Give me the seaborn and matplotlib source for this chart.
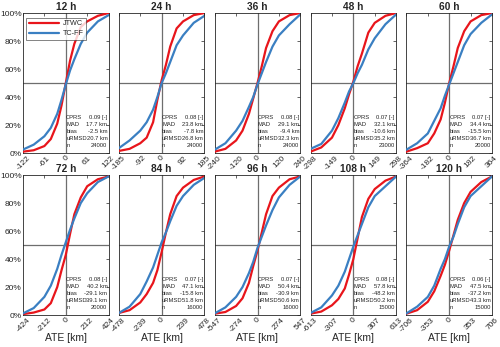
import numpy as np
import pandas as pd
import matplotlib
matplotlib.use("Agg")
import matplotlib.pyplot as plt
import matplotlib.transforms as mtransforms
import seaborn as sns

# lead times and axis half-ranges (km)
leads = ["12 h", "24 h", "36 h", "48 h", "60 h", "72 h", "84 h", "96 h", "108 h", "120 h"]
xlims = [122, 185, 240, 298, 364, 424, 478, 547, 613, 706]
xtick_half = [61, 92, 120, 149, 182, 212, 239, 274, 307, 353]

# positions where the CDFs were read, as fraction of the half-range
ate_frac = [-1, -0.75, -0.5, -0.35, -0.2, -0.1, 0, 0.1, 0.2, 0.35, 0.5, 0.75, 1]

# cumulative percentages
jtwc = [
    [1, 2, 5, 10, 21, 34, 50, 66, 78, 90, 94, 98, 100],
    [1.5, 3, 7, 11, 22, 38, 52, 63, 76, 89, 94, 98.5, 100],
    [1, 3, 9, 16, 28, 39, 50, 62, 75, 87, 94, 98.5, 100],
    [1, 4, 11, 20, 32, 42, 51, 62, 71, 86, 93, 98, 100],
    [1, 3.5, 7, 14, 24, 36, 50, 62, 75, 87, 94, 98.5, 100],
    [0.7, 1.8, 4, 8.5, 20, 32, 43, 58, 72, 84, 92, 97, 99],
    [1.5, 3.5, 9, 15, 23, 32, 45, 59, 72, 85, 91, 96.5, 99],
    [1, 2.2, 6.5, 12, 23, 35, 46, 59, 72, 85, 91, 97, 99],
    [1, 2.5, 7, 11.5, 19, 29, 40, 55, 70, 83, 90, 96, 99],
    [1, 3.5, 9.5, 17, 28, 36, 46, 57, 68, 80, 88, 95, 99],
]
tcff = [
    [2.5, 6, 12, 18, 28, 38, 49, 59, 67, 78, 86, 94, 98.5],
    [3.5, 9, 16, 22, 31, 40, 50, 57, 65, 77, 84, 93, 98],
    [2.4, 7, 16, 23, 33, 40, 49, 57, 65, 76, 84, 92, 99],
    [3, 6.5, 16, 25, 36, 44, 50, 57, 63, 74, 82, 92, 99],
    [2.4, 7, 14, 23, 32, 41, 49, 57, 65, 77, 85, 93, 99],
    [1.2, 5, 13, 21, 33, 43, 52, 61, 69, 80, 87, 95, 99],
    [1.5, 6, 15, 24, 34, 43, 52, 59, 67, 78, 85, 93, 98],
    [1.2, 5.5, 13, 20, 30, 38, 48, 56, 64, 75, 84, 93, 99],
    [1.5, 5.5, 14, 21, 31, 40, 49, 57, 65, 77, 85, 92, 99],
    [1.2, 6, 13, 21, 33, 40, 49, 56, 65, 77, 85, 92, 99],
]

# statistics shown in each panel
cprs = ["0.09", "0.08", "0.08", "0.07", "0.07", "0.08", "0.07", "0.07", "0.08", "0.06"]
mad = ["17.7", "23.8", "29.1", "32.1", "34.4", "40.2", "47.1", "50.4", "57.8", "47.5"]
bias = ["-2.5", "-7.8", "-9.4", "-10.6", "-15.5", "-29.1", "-15.8", "-30.9", "-48.2", "-37.2"]
urmsd = ["20.7", "26.8", "32.3", "35.2", "36.7", "39.1", "51.8", "50.6", "50.2", "43.3"]
n_obs = ["24000", "24000", "24000", "23000", "20000", "20000", "16000", "16000", "15000", "15000"]

sns.set_style("white")
plt.rcParams['font.family'] = ['Liberation Sans', 'DejaVu Sans']

palette = {"JTWC": "#e8151b", "TC-FF": "#3a7fc2"}
grey = "#6e6e6e"
ink = "#262626"

fig, axes = plt.subplots(2, 5, figsize=(5, 3.47), dpi=100)
fig.subplots_adjust(left=0.046, right=0.984, top=0.9625, bottom=0.092,
                    wspace=0.12, hspace=0.157)

for i, ax in enumerate(axes.flat):
    lim = xlims[i]
    ate = [f * lim for f in ate_frac]
    df = pd.DataFrame({
        "ATE": ate + ate,
        "cdf": jtwc[i] + tcff[i],
        "src": ["JTWC"] * len(ate) + ["TC-FF"] * len(ate),
    })
    ax.axhline(50, color=grey, lw=0.9, zorder=1)
    ax.axvline(0, color=grey, lw=0.9, zorder=1)
    sns.lineplot(data=df, x="ATE", y="cdf", hue="src", palette=palette,
                 lw=1.6, ax=ax, legend=(i == 0), zorder=3)
    ax.set_xlim(-lim, lim)
    ax.set_ylim(0, 100)
    ax.set_xticks([-lim, -xtick_half[i], 0, xtick_half[i], lim])
    ax.set_xticklabels([str(-lim), str(-xtick_half[i]), "0", str(xtick_half[i]), str(lim)],
                       rotation=45, ha="center", va="top")
    ax.set_yticks([0, 20, 40, 60, 80, 100])
    if i % 5 == 0:
        ax.set_yticklabels([f"{v}%" for v in range(0, 101, 20)])
    else:
        ax.set_yticklabels([])
    ax.tick_params(direction="in", length=2, width=0.5, top=True, right=True,
                   labelsize=6, colors=ink, pad=1)
    for sp in ax.spines.values():
        sp.set_color(ink)
        sp.set_linewidth(0.6)
    ax.set_ylabel("")
    ax.set_title(leads[i], fontsize=7.3, fontweight="bold", pad=2)
    if i >= 5:
        ax.set_xlabel("ATE [km]", fontsize=7.5, labelpad=0, color=ink)
    else:
        ax.set_xlabel("")

    # statistics block
    trans = mtransforms.blended_transform_factory(ax.transData, ax.transAxes)
    labels = ["CPRS", "MAD", "bias", "uRMSD", "n"]
    values = [cprs[i] + " [-]", mad[i] + " km", bias[i] + " km", urmsd[i] + " km", n_obs[i]]
    for k in range(5):
        y = 0.253 - k * 0.05
        ax.text(lim * 0.01, y, labels[k], transform=trans, fontsize=4.2,
                ha="left", va="center", color=ink)
        ax.text(0.985, y, values[k], transform=ax.transAxes, fontsize=4.2,
                ha="right", va="center", color=ink)

    if i == 0:
        leg = ax.legend(loc="upper left", fontsize=5.2, frameon=True, fancybox=False,
                        handlelength=4.2, handletextpad=0.5, borderpad=0.35,
                        labelspacing=0.35, bbox_to_anchor=(0.04, 0.965),
                        borderaxespad=0.0)
        leg.get_frame().set_edgecolor(ink)
        leg.get_frame().set_linewidth(0.5)
        for line in leg.get_lines():
            line.set_linewidth(1.6)

fig.savefig("out.png", dpi=100)
